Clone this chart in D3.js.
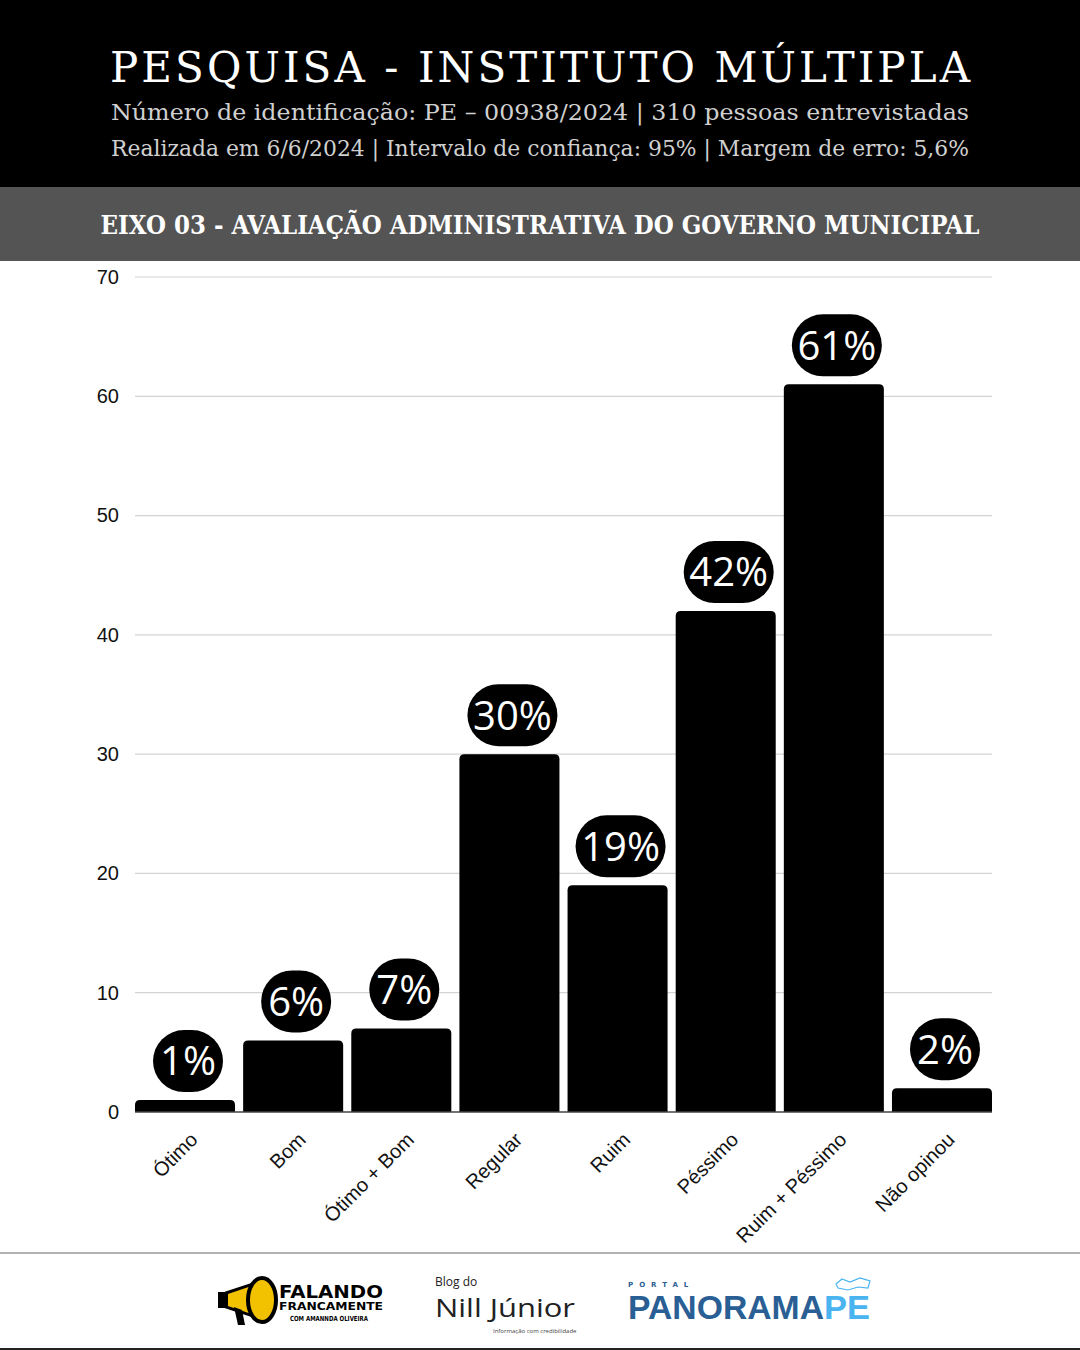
<!DOCTYPE html>
<html>
<head>
<meta charset="utf-8">
<script src="https://cdn.jsdelivr.net/npm/d3@7"></script>
<style>
  body { margin: 0; background: #fff; }
  svg { display: block; }
</style>
</head>
<body>
<svg id="chart" width="1080" height="1350"></svg>
<script>
// data
var categories = ["Ótimo", "Bom", "Ótimo + Bom", "Regular", "Ruim", "Péssimo", "Ruim + Péssimo", "Não opinou"];
var values = [1, 6, 7, 30, 19, 42, 61, 2];
var yTicks = [0, 10, 20, 30, 40, 50, 60, 70];

var title = "PESQUISA - INSTITUTO MÚLTIPLA";
var subtitle1 = "Número de identificação: PE – 00938/2024 | 310 pessoas entrevistadas";
var subtitle2 = "Realizada em 6/6/2024 | Intervalo de confiança: 95% | Margem de erro: 5,6%";
var band = "EIXO 03 - AVALIAÇÃO ADMINISTRATIVA DO GOVERNO MUNICIPAL";

var svg = d3.select("#chart");
var W = 1080;

// header
svg.append("rect").attr("x", 0).attr("y", 0).attr("width", W).attr("height", 187).attr("fill", "#000");
svg.append("text")
  .attr("x", 110).attr("y", 82)
  .attr("textLength", 860).attr("lengthAdjust", "spacing")
  .style("font-family", "'DejaVu Serif'").style("font-size", "42px")
  .style("fill", "#fff").text(title);
svg.append("text")
  .attr("x", 111).attr("y", 120)
  .attr("textLength", 858).attr("lengthAdjust", "spacingAndGlyphs")
  .style("font-family", "'DejaVu Serif'").style("font-size", "22px")
  .style("fill", "#d0d0d0").text(subtitle1);
svg.append("text")
  .attr("x", 111).attr("y", 156)
  .attr("textLength", 858).attr("lengthAdjust", "spacingAndGlyphs")
  .style("font-family", "'DejaVu Serif'").style("font-size", "22px")
  .style("fill", "#d0d0d0").text(subtitle2);

// gray band
svg.append("rect").attr("x", 0).attr("y", 187).attr("width", W).attr("height", 74).attr("fill", "#545454");
svg.append("text")
  .attr("x", W / 2).attr("y", 234).attr("text-anchor", "middle")
  .style("font-family", "'DejaVu Serif Condensed', 'DejaVu Serif'").style("font-weight", "bold").style("font-size", "25.5px")
  .style("fill", "#fff").text(band);

// chart area
var margin = { left: 135, right: 88 };
var x = d3.scaleBand().domain(categories).range([margin.left, W - margin.right]).paddingInner(0.075).paddingOuter(0.0);
var y = d3.scaleLinear().domain([0, 70]).range([1112, 277]);

// grid
svg.append("g").selectAll("line").data(yTicks.slice(1)).enter().append("line")
  .attr("x1", margin.left).attr("x2", W - margin.right)
  .attr("y1", function (d) { return y(d); }).attr("y2", function (d) { return y(d); })
  .attr("stroke", "#d4d4d4").attr("stroke-width", 1.2);

// y axis labels
var yAxis = d3.axisLeft(y).tickValues(yTicks).tickSize(0).tickPadding(16);
var gY = svg.append("g").attr("transform", "translate(" + margin.left + ",0)").call(yAxis);
gY.select(".domain").remove();
gY.selectAll("text").style("font-family", "'Liberation Sans', Arial").style("font-size", "20px").style("fill", "#111");

// bars with rounded top
var r = 5;
function barPath(d, i) {
  var x0 = x(categories[i]), w = x.bandwidth(), y0 = y(d), y1 = y(0);
  return "M" + x0 + "," + y1 +
    "V" + (y0 + r) +
    "Q" + x0 + "," + y0 + " " + (x0 + r) + "," + y0 +
    "H" + (x0 + w - r) +
    "Q" + (x0 + w) + "," + y0 + " " + (x0 + w) + "," + (y0 + r) +
    "V" + y1 + "Z";
}
svg.append("g").selectAll("path").data(values).enter().append("path")
  .attr("d", barPath).attr("fill", "#000");

// baseline
svg.append("line").attr("x1", margin.left).attr("x2", W - margin.right)
  .attr("y1", y(0)).attr("y2", y(0)).attr("stroke", "#444").attr("stroke-width", 1.5);

// value pills
var pills = svg.append("g").selectAll("g").data(values).enter().append("g")
  .attr("transform", function (d, i) {
    return "translate(" + (x(categories[i]) + x.bandwidth() / 2 + 3) + "," + (y(d) - 39) + ")";
  });
pills.append("rect")
  .attr("x", function (d) { return d < 10 ? -35 : -45; })
  .attr("width", function (d) { return d < 10 ? 70 : 90; })
  .attr("y", -31).attr("height", 62).attr("rx", 31)
  .attr("fill", "#000");
pills.append("text")
  .attr("text-anchor", "middle").attr("dy", "0.36em")
  .style("font-family", "'Open Sans'").style("font-size", "40px")
  .style("fill", "#fff")
  .text(function (d) { return d + "%"; });

// x labels rotated
var xAxis = d3.axisBottom(x).tickSize(0).tickPadding(0);
var gX = svg.append("g").attr("transform", "translate(0," + y(0) + ")").call(xAxis);
gX.select(".domain").remove();
gX.selectAll("text")
  .attr("transform", "translate(9,24) rotate(-45)")
  .attr("dy", "0.35em")
  .style("text-anchor", "end")
  .style("font-family", "'Liberation Sans', Arial").style("font-size", "20px").style("fill", "#111");

// footer
svg.append("line").attr("x1", 0).attr("x2", W).attr("y1", 1253).attr("y2", 1253).attr("stroke", "#999").attr("stroke-width", 1.5);
svg.append("line").attr("x1", 0).attr("x2", W).attr("y1", 1349).attr("y2", 1349).attr("stroke", "#222").attr("stroke-width", 2);

// logo 1: Falando Francamente (megaphone)
var l1 = svg.append("g").attr("transform", "translate(218,1275)");
l1.append("path").attr("d", "M8,18 L38,8 L38,42 L8,32 Z").attr("fill", "#f2c200").attr("stroke", "#000").attr("stroke-width", 3);
l1.append("ellipse").attr("cx", 44).attr("cy", 25).attr("rx", 14).attr("ry", 22).attr("fill", "#f2c200").attr("stroke", "#000").attr("stroke-width", 4);
l1.append("rect").attr("x", 0).attr("y", 17).attr("width", 10).attr("height", 16).attr("fill", "#000");
l1.append("path").attr("d", "M16,32 L20,50 L27,50 L24,35").attr("fill", "#000");
l1.append("text").attr("x", 61).attr("y", 23).style("font-family", "'DejaVu Sans'").style("font-weight", "bold").style("font-size", "17px").attr("textLength", 104).attr("lengthAdjust", "spacingAndGlyphs").text("FALANDO");
l1.append("text").attr("x", 61).attr("y", 35).style("font-family", "'DejaVu Sans'").style("font-weight", "bold").style("font-size", "11px").attr("textLength", 104).attr("lengthAdjust", "spacingAndGlyphs").text("FRANCAMENTE");
l1.append("text").attr("x", 72).attr("y", 46).style("font-family", "'DejaVu Sans'").style("font-weight", "bold").style("font-size", "7px").attr("textLength", 78).attr("lengthAdjust", "spacingAndGlyphs").text("COM AMANNDA OLIVEIRA");

// logo 2: Blog do Nill Júnior
var l2 = svg.append("g").attr("transform", "translate(435,1276)");
l2.append("text").attr("x", 0).attr("y", 10).style("font-family", "'Open Sans'").style("font-size", "12px").style("fill", "#222").text("Blog do");
l2.append("text").attr("x", 0).attr("y", 41).style("font-family", "'Open Sans'").style("font-size", "26px").style("fill", "#222").attr("textLength", 140).attr("lengthAdjust", "spacingAndGlyphs").text("Nill Júnior");
l2.append("text").attr("x", 58).attr("y", 57).style("font-family", "'Open Sans'").style("font-size", "6px").style("fill", "#444").text("Informação com credibilidade");

// logo 3: Portal PanoramaPE
var l3 = svg.append("g").attr("transform", "translate(628,1278)");
l3.append("text").attr("x", 0).attr("y", 9).style("font-family", "'DejaVu Sans'").style("font-weight", "bold").style("font-size", "7px").style("fill", "#2a5f95").style("letter-spacing", "6px").text("PORTAL");
l3.append("text").attr("x", 0).attr("y", 41).style("font-family", "'Liberation Sans'").style("font-weight", "bold").style("font-size", "34px").style("fill", "#2a5f95").attr("textLength", 196).attr("lengthAdjust", "spacingAndGlyphs").text("PANORAMA");
l3.append("text").attr("x", 196).attr("y", 41).style("font-family", "'Liberation Sans'").style("font-weight", "bold").style("font-size", "34px").style("fill", "#4ab4f0").attr("textLength", 46).attr("lengthAdjust", "spacingAndGlyphs").text("PE");
l3.append("path").attr("d", "M208,6 L214,1 L222,4 L232,0 L242,3 L240,10 L230,9 L220,12 L210,10 Z").attr("fill", "none").attr("stroke", "#4ab4f0").attr("stroke-width", 1.2);
</script>
</body>
</html>
